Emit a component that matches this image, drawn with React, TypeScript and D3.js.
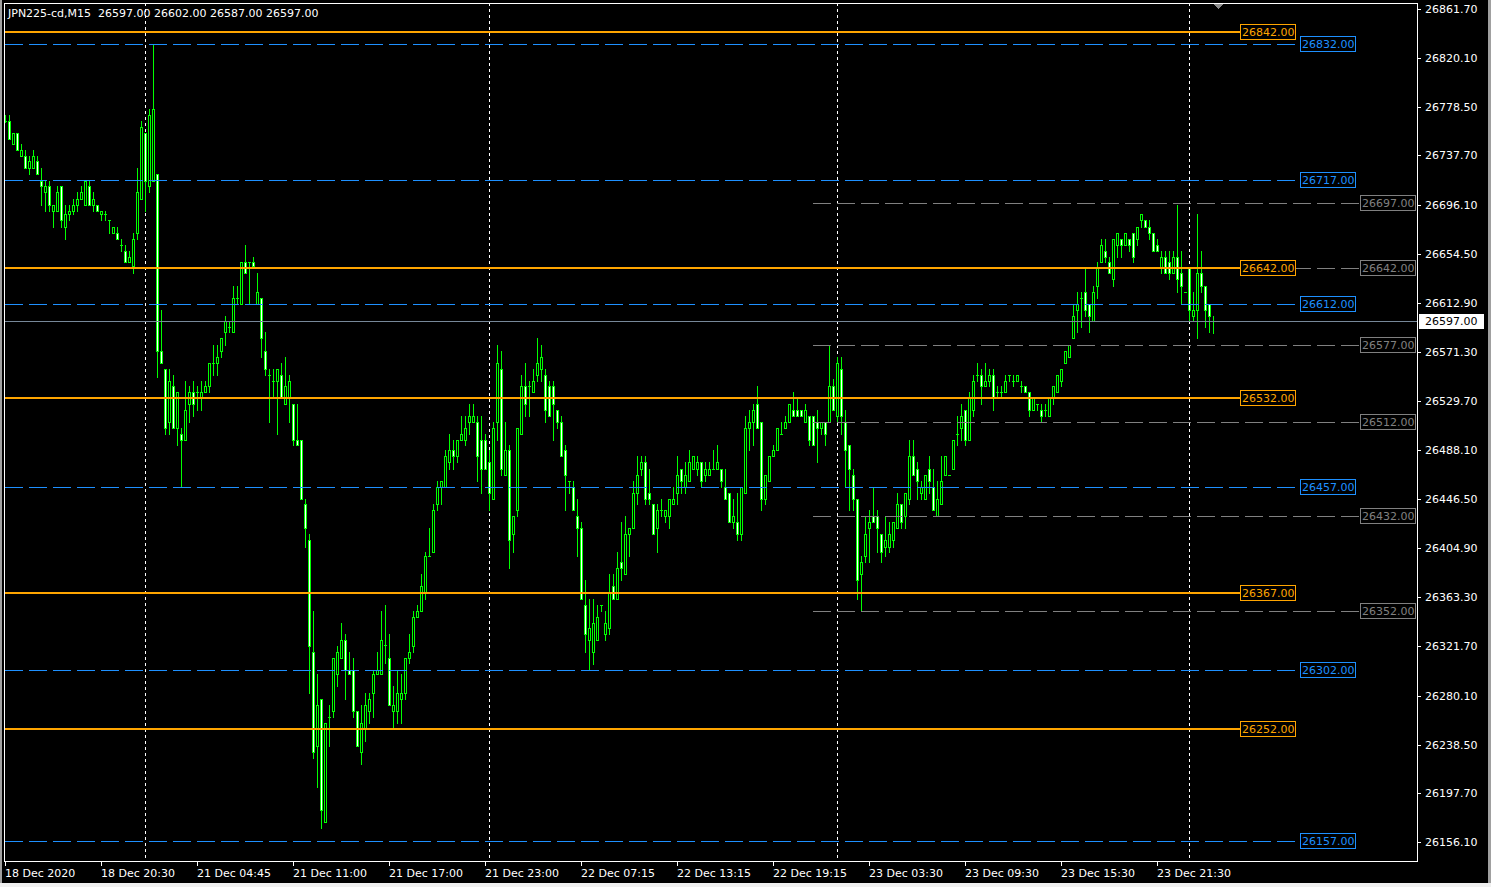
import React from "react";
import * as d3 from "d3";

const W = 1491;
const H = 887;

const titleText = "JPN225-cd,M15  26597.00 26602.00 26587.00 26597.00";

// OHLC of the M15 bars (price units)
const opens = [
  26767,26767,26747,26757,26737,26737,26727,26727,26733,26716,
  26707,26712,26691,26691,26712,26677,26688,26691,26696,26701,
  26696,26712,26696,26696,26688,26688,26683,26672,26672,26662,
  26657,26647,26644,26672,26701,26757,26712,26716,26722,26572,
  26557,26512,26542,26507,26502,26497,26527,26537,26537,26532,
  26537,26542,26562,26562,26572,26588,26592,26588,26617,26612,
  26647,26647,26647,26612,26617,26572,26552,26547,26547,26552,
  26527,26532,26527,26497,26497,26442,26412,26317,26237,26277,
  26173,26262,26267,26298,26312,26327,26302,26302,26267,26232,
  26252,26267,26282,26298,26298,26323,26312,26267,26267,26277,
  26282,26312,26322,26347,26352,26367,26398,26402,26442,26457,
  26457,26478,26488,26483,26497,26497,26512,26512,26512,26497,
  26497,26478,26447,26512,26557,26467,26488,26417,26437,26502,
  26542,26542,26537,26552,26557,26552,26542,26542,26522,26512,
  26488,26462,26457,26432,26422,26357,26327,26317,26327,26357,
  26332,26337,26373,26362,26393,26383,26417,26422,26452,26472,
  26478,26452,26442,26422,26437,26432,26432,26442,26452,26472,
  26457,26462,26472,26472,26478,26467,26467,26472,26472,26472,
  26457,26452,26427,26427,26417,26452,26507,26512,26527,26512,
  26447,26462,26483,26488,26502,26507,26512,26522,26522,26522,
  26512,26517,26517,26512,26507,26512,26512,26542,26517,26557,
  26512,26492,26467,26447,26383,26398,26422,26432,26432,26417,
  26406,26406,26412,26422,26442,26432,26447,26483,26472,26452,
  26447,26472,26457,26432,26442,26467,26467,26472,26502,26507,
  26522,26497,26522,26552,26552,26542,26547,26552,26537,26537,
  26537,26552,26547,26547,26542,26542,26537,26522,26527,26522,
  26522,26517,26532,26537,26547,26562,26567,26583,26607,26617,
  26622,26612,26597,26627,26647,26657,26647,26633,26662,26667,
  26662,26667,26672,26667,26683,26683,26677,26672,26662,26643,
  26652,26647,26638,26652,26638,26622,26643,26602,26607,26638,
  26627,26612,26597,
];

const highs = [
  26772,26772,26757,26757,26747,26742,26737,26742,26737,26727,
  26716,26716,26696,26712,26712,26696,26696,26701,26707,26712,
  26716,26716,26707,26696,26691,26691,26683,26677,26677,26667,
  26662,26657,26672,26727,26767,26757,26777,26832,26722,26607,
  26557,26557,26552,26537,26507,26547,26542,26547,26542,26547,
  26547,26562,26577,26577,26583,26602,26597,26627,26627,26647,
  26662,26647,26652,26638,26617,26588,26557,26557,26557,26562,
  26567,26552,26527,26527,26497,26447,26417,26352,26298,26277,
  26257,26272,26312,26322,26342,26332,26317,26312,26267,26272,
  26282,26282,26302,26317,26352,26357,26332,26288,26302,26298,
  26312,26332,26352,26357,26383,26402,26422,26442,26462,26462,
  26488,26502,26497,26497,26517,26517,26527,26527,26517,26517,
  26502,26488,26512,26577,26572,26512,26492,26432,26507,26552,
  26562,26547,26557,26583,26577,26557,26547,26547,26522,26517,
  26492,26462,26462,26447,26427,26378,26362,26362,26357,26357,
  26352,26383,26383,26402,26427,26432,26422,26462,26483,26483,
  26483,26472,26442,26442,26447,26437,26447,26457,26483,26472,
  26478,26488,26483,26483,26478,26478,26478,26488,26492,26472,
  26472,26452,26447,26452,26457,26517,26522,26527,26542,26512,
  26467,26483,26492,26507,26512,26517,26527,26537,26532,26522,
  26527,26517,26517,26522,26512,26512,26577,26548,26567,26567,
  26522,26492,26472,26447,26398,26432,26437,26457,26437,26417,
  26432,26427,26427,26452,26442,26452,26497,26497,26478,26462,
  26467,26483,26472,26462,26483,26483,26467,26497,26517,26527,
  26522,26537,26552,26562,26557,26562,26557,26557,26542,26542,
  26552,26552,26552,26552,26547,26542,26537,26532,26527,26527,
  26527,26532,26542,26552,26557,26572,26577,26612,26622,26622,
  26643,26612,26627,26647,26667,26667,26652,26667,26672,26667,
  26672,26667,26672,26677,26688,26683,26683,26672,26667,26657,
  26657,26657,26657,26696,26657,26622,26643,26622,26688,26657,
  26627,26612,26602,
];

const lows = [
  26766,26752,26747,26742,26737,26727,26722,26727,26722,26696,
  26691,26691,26677,26691,26677,26667,26683,26688,26691,26701,
  26696,26696,26691,26691,26683,26683,26672,26672,26667,26657,
  26647,26647,26638,26667,26701,26691,26707,26716,26550,26562,
  26502,26502,26507,26492,26457,26497,26512,26517,26522,26522,
  26537,26537,26552,26552,26567,26577,26588,26588,26612,26612,
  26638,26612,26644,26612,26567,26552,26512,26532,26502,26532,
  26527,26512,26492,26492,26447,26406,26282,26227,26203,26168,
  26173,26237,26262,26288,26312,26277,26298,26262,26237,26222,
  26242,26257,26262,26298,26298,26308,26272,26252,26257,26257,
  26277,26308,26317,26347,26352,26362,26398,26402,26437,26442,
  26457,26472,26472,26478,26497,26492,26502,26512,26462,26452,
  26472,26437,26447,26497,26467,26467,26388,26402,26432,26502,
  26517,26517,26537,26547,26547,26512,26517,26497,26507,26483,
  26437,26452,26437,26398,26362,26317,26302,26307,26327,26352,
  26327,26332,26362,26362,26378,26383,26398,26422,26442,26467,
  26442,26442,26417,26402,26432,26427,26422,26442,26442,26452,
  26452,26462,26472,26467,26457,26462,26467,26472,26472,26457,
  26447,26427,26422,26412,26412,26452,26488,26492,26507,26437,
  26442,26462,26483,26488,26502,26507,26512,26517,26517,26517,
  26512,26492,26492,26478,26502,26492,26512,26522,26512,26502,
  26457,26437,26437,26362,26352,26393,26393,26427,26402,26393,
  26398,26402,26406,26422,26422,26422,26442,26467,26447,26447,
  26447,26452,26437,26432,26442,26467,26467,26472,26492,26497,
  26492,26497,26517,26547,26527,26542,26542,26522,26533,26533,
  26537,26547,26542,26547,26537,26537,26517,26522,26522,26512,
  26517,26517,26527,26537,26542,26562,26567,26583,26588,26592,
  26602,26588,26597,26617,26647,26647,26638,26627,26652,26652,
  26662,26657,26647,26662,26677,26677,26667,26657,26657,26638,
  26638,26633,26638,26622,26612,26622,26597,26597,26583,26622,
  26592,26588,26587,
];

const closes = [
  26767,26752,26757,26742,26742,26727,26733,26737,26722,26712,
  26712,26696,26696,26707,26683,26688,26691,26696,26701,26707,
  26716,26696,26701,26691,26691,26688,26683,26677,26667,26662,
  26647,26652,26667,26707,26762,26716,26772,26777,26572,26562,
  26507,26547,26507,26537,26497,26522,26537,26527,26537,26537,
  26542,26562,26562,26567,26583,26597,26592,26617,26617,26647,
  26638,26647,26644,26622,26583,26557,26552,26547,26557,26532,
  26542,26547,26497,26492,26447,26422,26322,26232,26272,26183,
  26257,26262,26312,26317,26327,26302,26298,26267,26237,26257,
  26272,26277,26298,26302,26327,26323,26272,26272,26282,26282,
  26312,26317,26347,26352,26373,26398,26398,26437,26457,26462,
  26483,26488,26483,26497,26502,26507,26517,26517,26483,26472,
  26472,26452,26507,26562,26472,26488,26412,26432,26507,26542,
  26527,26542,26547,26562,26567,26522,26517,26527,26512,26483,
  26467,26462,26437,26422,26362,26332,26337,26342,26347,26357,
  26342,26367,26362,26388,26388,26417,26422,26452,26467,26478,
  26447,26447,26417,26437,26437,26437,26447,26447,26467,26462,
  26467,26478,26483,26478,26462,26472,26472,26472,26478,26462,
  26447,26427,26432,26417,26457,26507,26512,26522,26507,26447,
  26467,26483,26488,26507,26502,26512,26527,26517,26517,26517,
  26522,26497,26492,26507,26512,26502,26542,26522,26562,26517,
  26488,26472,26447,26378,26393,26417,26427,26427,26422,26402,
  26412,26417,26427,26442,26427,26452,26483,26467,26462,26457,
  26467,26462,26437,26447,26462,26483,26467,26497,26502,26517,
  26497,26532,26547,26552,26542,26547,26552,26533,26537,26537,
  26547,26552,26547,26552,26542,26537,26522,26532,26527,26517,
  26522,26532,26542,26552,26557,26572,26577,26602,26612,26617,
  26607,26602,26622,26643,26662,26652,26638,26667,26672,26662,
  26672,26662,26652,26677,26688,26677,26672,26657,26657,26652,
  26638,26638,26652,26633,26627,26622,26607,26607,26638,26627,
  26607,26602,26597,
];

const orangeLevels = [26842, 26642, 26532, 26367, 26252];
const blueLevels = [26832, 26717, 26612, 26457, 26302, 26157];
const grayLevels = [26697, 26642, 26577, 26512, 26432, 26352];
const grayStartBar = 202;
const bidPrice = 26597;

const yTickValues = [
  26861.7, 26820.1, 26778.5, 26737.7, 26696.1, 26654.5, 26612.9, 26571.3, 26529.7,
  26488.1, 26446.5, 26404.9, 26363.3, 26321.7, 26280.1, 26238.5, 26197.7, 26156.1,
];

const xTickBars = [0, 24, 48, 72, 96, 120, 144, 168, 192, 216, 240, 264, 288];
const xTickLabels = [
  "18 Dec 2020", "18 Dec 20:30", "21 Dec 04:45", "21 Dec 11:00", "21 Dec 17:00",
  "21 Dec 23:00", "22 Dec 07:15", "22 Dec 13:15", "22 Dec 19:15", "23 Dec 03:30",
  "23 Dec 09:30", "23 Dec 15:30", "23 Dec 21:30",
];
const separatorBars = [35, 121, 208, 296];

const FONT = "'DejaVu Sans', Tahoma, sans-serif";
const LIME = "#00ff00";
const ORANGE = "#ffa500";
const BLUE = "#1e90ff";
const GRAY = "#808080";

const PL = 4;
const PT = 3;
const PR = 1417;
const PB = 861;

export default function App() {
  const n = closes.length;
  const x = d3.scaleLinear().domain([0, n - 1]).range([5, 5 + 4 * (n - 1)]);
  const y = d3.scaleLinear().domain([26156.1, 26861.7]).range([842, 9]);
  const py = (v: number) => Math.round(y(v));
  const px = (i: number) => Math.round(x(i));

  const candles = d3.range(n).map((i) => {
    const o = opens[i];
    const c = closes[i];
    const h = Math.max(highs[i], o, c);
    const l = Math.min(lows[i], o, c);
    const cx = px(i);
    const top = py(Math.max(o, c));
    const bot = py(Math.min(o, c));
    const bear = c < o;
    return (
      <g key={i}>
        <rect x={cx} y={py(h)} width={1} height={py(l) - py(h) + 1} fill={LIME} />
        <rect x={cx - 1} y={top} width={3} height={Math.max(1, bot - top + 1)} fill={LIME} />
        {bot - top >= 2 && (
          <rect x={cx} y={top + 1} width={1} height={bot - top - 1} fill={bear ? "#ffffff" : "#000000"} />
        )}
      </g>
    );
  });

  const label = (xl: number, yv: number, text: string, color: string, key: string) => {
    const yy = py(yv);
    return (
      <g key={key}>
        <rect x={xl + 0.5} y={yy - 7.5} width={55} height={15} fill="#000" stroke={color} strokeWidth={1} />
        <text x={xl + 2} y={yy + 4} fill={color} fontSize={11} fontFamily={FONT}>
          {text}
        </text>
      </g>
    );
  };

  return (
    <svg
      width={W}
      height={H}
      style={{ position: "absolute", left: 0, top: 0, display: "block" }}
      shapeRendering="crispEdges"
    >
      <rect x={0} y={0} width={W} height={H} fill="#000" />
      <rect x={0} y={0} width={2} height={H} fill="#a0a0a0" />
      <rect x={W - 3} y={0} width={3} height={H} fill="#a0a0a0" />
      <rect x={0} y={H - 4} width={W} height={4} fill="#f0f0f0" />

      {separatorBars.map((b) => (
        <line
          key={"sep" + b}
          x1={px(b) + 0.5}
          x2={px(b) + 0.5}
          y1={PT}
          y2={PB}
          stroke="#ffffff"
          strokeWidth={1}
          strokeDasharray="3,3"
        />
      ))}

      {candles}

      <line x1={PL} x2={PR} y1={py(bidPrice) + 0.5} y2={py(bidPrice) + 0.5} stroke="#778899" strokeWidth={1} />

      {grayLevels.map((v) => (
        <line
          key={"g" + v}
          x1={px(grayStartBar)}
          x2={1360}
          y1={py(v) + 0.5}
          y2={py(v) + 0.5}
          stroke={GRAY}
          strokeWidth={1}
          strokeDasharray="18,6"
        />
      ))}
      {blueLevels.map((v) => (
        <line
          key={"b" + v}
          x1={PL + 1}
          x2={1300}
          y1={py(v) + 0.5}
          y2={py(v) + 0.5}
          stroke={BLUE}
          strokeWidth={1}
          strokeDasharray="18,6"
        />
      ))}
      {orangeLevels.map((v) => (
        <rect key={"o" + v} x={PL + 1} y={py(v) - 1} width={1240 - PL - 1} height={2} fill={ORANGE} />
      ))}

      {grayLevels.map((v) => label(1360, v, v.toFixed(2), GRAY, "gl" + v))}
      {blueLevels.map((v) => label(1300, v, v.toFixed(2), BLUE, "bl" + v))}
      {orangeLevels.map((v) => label(1240, v, v.toFixed(2), ORANGE, "ol" + v))}

      {/* frame */}
      <rect x={PL + 0.5} y={PT + 0.5} width={PR - PL} height={PB - PT} fill="none" stroke="#ffffff" strokeWidth={1} />

      {/* shift marker */}
      <polygon points="1213,4 1224,4 1218.5,9" fill="#8c8c8c" />

      {/* right axis */}
      {yTickValues.map((v) => (
        <g key={"yt" + v}>
          <line x1={PR} x2={PR + 4} y1={py(v) + 0.5} y2={py(v) + 0.5} stroke="#fff" />
          <text x={1425} y={py(v) + 4} fill="#fff" fontSize={11} fontFamily={FONT}>
            {v.toFixed(2)}
          </text>
        </g>
      ))}
      <rect x={1419} y={py(bidPrice) - 7} width={65} height={15} fill="#fff" />
      <text x={1425} y={py(bidPrice) + 4} fill="#000" fontSize={11} fontFamily={FONT}>
        {bidPrice.toFixed(2)}
      </text>

      {/* bottom axis */}
      {xTickBars.map((b, k) => (
        <g key={"xt" + b}>
          <line x1={px(b) + 0.5} x2={px(b) + 0.5} y1={PB} y2={PB + 5} stroke="#fff" />
          <text x={px(b)} y={877} fill="#fff" fontSize={11} fontFamily={FONT}>
            {xTickLabels[k]}
          </text>
        </g>
      ))}

      <text x={8} y={17} fill="#fff" fontSize={11} fontFamily={FONT} xmlSpace="preserve" style={{ whiteSpace: "pre" }}>
        {titleText}
      </text>
    </svg>
  );
}
